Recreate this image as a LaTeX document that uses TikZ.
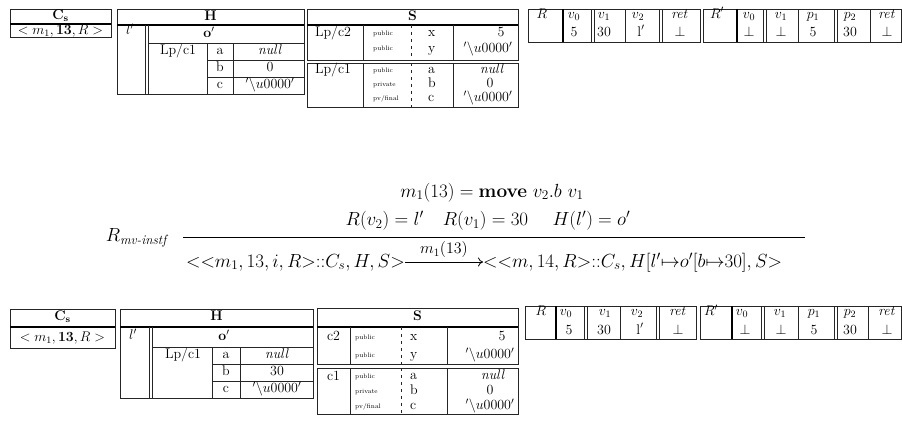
\RequirePackage{fix-cm}
\documentclass[tikz,border=0pt]{standalone}
\usepackage{amsmath,amssymb}
\usetikzlibrary{arrows.meta}
\newcommand\dblv[3]{\draw[dl] (#1-1.5,#2) -- (#1-1.5,#3) (#1+1.5,#2) -- (#1+1.5,#3);}
\begin{document}
\begin{tikzpicture}[x=1pt,y=-1pt,
  ln/.style={line width=0.8pt,draw=black!85},
  hv/.style={line width=2.6pt,draw=black},
  vt/.style={line width=1.8pt,draw=black},
  dl/.style={line width=0.7pt,draw=black!85},
  ds/.style={line width=0.8pt,draw=black!85,dash pattern=on 3pt off 4pt},
  tt/.style={font=\fontsize{14}{16}\selectfont,inner sep=0pt,text height=9.5pt,text depth=3pt},
  tb/.style={font=\fontsize{14}{16}\selectfont,inner sep=0pt,anchor=base},
  sm/.style={font=\fontsize{6.5}{7}\selectfont,inner sep=0pt,anchor=west,text height=4.6pt,text depth=1.5pt},
  bg/.style={font=\fontsize{19}{22}\selectfont,inner sep=0pt,anchor=base},
]
\useasboundingbox (0,0) rectangle (902,423);

% ================= TOP =================
% Cs
\draw[ln] (10,9) rectangle (111,37);
\draw[hv] (10,24) -- (111,24);
\node[tt] (aCs) at (60.5,16) {$\mathbf{C}_{\mathbf{s}}$};
\node[tb] (aCsv) at (60.5,34) {$< m_1, \mathbf{13}, R >$};
% H
\draw[ln] (117,9) rectangle (304,94);
\draw[hv] (117,25) -- (304,25);
\dblv{146.5}{25}{94}
\draw[ln] (148,43) -- (304,43) (207,60) -- (304,60) (207,77) -- (304,77)
          (207,43) -- (207,94) (233,43) -- (233,94);
\node[tt] (aH) at (210.5,17) {\textbf{H}};
\node[tt] (al) at (130,31) {$l'$};
\node[tt] (ao) at (209,34) {$\mathbf{o'}$};
\node[tt] (alp) at (178,51) {Lp/c1};
\node[tt] (aa) at (220,51) {a};
\node[tt] (aav) at (270,51) {\textit{null}};
\node[tt] (ab) at (220,68) {b};
\node[tt] (abv) at (270,68) {0};
\node[tt] (ac) at (220,85) {c};
\node[tt] (acv) at (270,85) {$'\backslash u0000'$};
% S
\draw[ln] (307,9) rectangle (518,25);
\draw[ln] (307,25) rectangle (518,60);
\draw[ln] (307,63) rectangle (518,107);
\draw[hv] (307,25) -- (518,25);
\draw[ln] (363,25) -- (363,60) (453,25) -- (453,60) (363,63) -- (363,107) (453,63) -- (453,107);
\draw[ds] (411,25) -- (411,60) (411,63) -- (411,107);
\node[tt] (aS) at (412.5,17) {\textbf{S}};
\node[tt] (alp2) at (333,33) {Lp/c2};
\node[sm] (apx) at (373,34) {public};
\node[sm] (apy) at (373,49) {public};
\node[tt,anchor=west] (ax) at (428,33) {x};
\node[tt,anchor=west] (ay) at (428,49) {y};
\node[tt] (axv) at (501,33) {5};
\node[tt] (ayv) at (488,49) {$'\backslash u0000'$};
\node[tt] (alp1) at (333,70) {Lp/c1};
\node[sm] (apa) at (373,71) {public};
\node[sm] (apb) at (373,85) {private};
\node[sm] (apc) at (373,99) {pv/final};
\node[tt,anchor=west] (asa) at (428,70) {a};
\node[tt,anchor=west] (asb) at (428,84) {b};
\node[tt,anchor=west] (asc) at (428,98) {c};
\node[tt] (asav) at (492,70) {\textit{null}};
\node[tt] (asbv) at (490,84) {0};
\node[tt] (ascv) at (488,98) {$'\backslash u0000'$};
% R and R'
\draw[ln] (528,9) rectangle (700,42);
\draw[ln] (703,9) rectangle (901,42);
\draw[vt] (563,9) -- (563,42) (737,9) -- (737,42);
\dblv{593}{9}{42} \dblv{661}{9}{42} \dblv{765}{9}{42} \dblv{836}{9}{42}
\draw[ln] (625,9) -- (625,42) (798,9) -- (798,42) (870,9) -- (870,42);
\foreach \x/\t/\n in {542/$R$/aR, 574/$v_0$/arv0, 604/$v_1$/arv1, 638/$v_2$/arv2, 680/$\mathit{ret}$/arret,
   717/$R'$/aRp, 749/$v_0$/aqv0, 781/$v_1$/aqv1, 813/$p_1$/aqp1, 850/$p_2$/aqp2, 887/$\mathit{ret}$/aqret}
  {\node[tb] (\n) at (\x,18) {\t};}
\foreach \x/\t/\n in {574/5/arv0v, 604/30/arv1v, 641/$\mathrm{l}'$/arv2v, 680/$\bot$/arretv,
   749/$\bot$/aqv0v, 781/$\bot$/aqv1v, 813/5/aqp1v, 850/30/aqp2v, 887/$\bot$/aqretv}
  {\node[tb] (\n) at (\x,36) {\t};}

% ================= RULE =================
\node[bg] (pr1) at (492,197) {$m_1(13) = \mathbf{move}\ v_2.b\ v_1$};
\node[bg] (pr2) at (488,225.5) {$R(v_2) = l'\quad R(v_1) = 30\quad\; H(l') = o'$};
\draw[line width=0.8pt] (183,237) -- (805,237);
\node[bg,anchor=east] (rlab) at (167,238) {$R_{\textit{mv-instf}}$};
\node[bg,anchor=base east] (cl) at (405,267) {${<}{<}m_1,13,i,R{>}{:}{:}C_s,H,S{>}$};
\node[bg,anchor=base west] (cr) at (483,267) {${<}{<}m,14,R{>}{:}{:}C_s,H[l'{\mapsto}o'[b{\mapsto}30],S{>}$};
\draw[line width=0.8pt,-{Computer Modern Rightarrow[length=5pt,width=9pt]}]
  ([yshift=5pt]cl.base east) -- ([yshift=5pt]cr.base west)
  node[midway,above=4pt,inner sep=0pt,font=\fontsize{16}{18}\selectfont] (arl) {$m_1(13)$};

% ================= BOTTOM =================
% Cs
\draw[ln] (10,309) rectangle (115,348);
\draw[hv] (10,327) -- (115,327);
\node[tt] (bCs) at (62.5,317) {$\mathbf{C}_{\mathbf{s}}$};
\node[tb] (bCsv) at (62.5,341) {$< m_1, \mathbf{13}, R >$};
% H
\draw[ln] (120,309) rectangle (313,398);
\draw[hv] (120,327) -- (313,327);
\dblv{151}{327}{398}
\draw[ln] (152.5,347) -- (313,347) (212,364) -- (313,364) (212,381) -- (313,381)
          (212,347) -- (212,398) (240,347) -- (240,398);
\node[tt] (bH) at (216.5,317) {\textbf{H}};
\node[tt] (bl) at (133,336) {$l'$};
\node[tt] (bo) at (224,337) {$\mathbf{o'}$};
\node[tt] (blp) at (183,355) {Lp/c1};
\node[tt] (ba) at (226,355) {a};
\node[tt] (bav) at (277,355) {\textit{null}};
\node[tt] (bb) at (226,372) {b};
\node[tt] (bbv) at (277,372) {30};
\node[tt] (bc) at (226,389) {c};
\node[tt] (bcv) at (277,389) {$'\backslash u0000'$};
% S
\draw[ln] (317,308) rectangle (518,327);
\draw[ln] (317,327) rectangle (518,364);
\draw[ln] (317,368) rectangle (518,414);
\draw[hv] (317,327) -- (518,327);
\draw[ln] (350,327) -- (350,364) (447,327) -- (447,364) (350,368) -- (350,414) (447,368) -- (447,414);
\draw[ds] (401,327) -- (401,364) (401,368) -- (401,414);
\node[tt] (bS) at (417.5,317) {\textbf{S}};
\node[tt] (bc2) at (333.5,337) {c2};
\node[sm] (bpx) at (355,338) {public};
\node[sm] (bpy) at (355,356) {public};
\node[tt,anchor=west] (bx) at (410,337) {x};
\node[tt,anchor=west] (by) at (410,355) {y};
\node[tt] (bxv) at (502,337) {5};
\node[tt] (byv) at (490,355) {$'\backslash u0000'$};
\node[tt] (bc1) at (333.5,377) {c1};
\node[sm] (bpa) at (355,377) {public};
\node[sm] (bpb) at (355,392) {private};
\node[sm] (bpc) at (355,407) {pv/final};
\node[tt,anchor=west] (bsa) at (410,376) {a};
\node[tt,anchor=west] (bsb) at (410,391) {b};
\node[tt,anchor=west] (bsc) at (410,406) {c};
\node[tt] (bsav) at (493,376) {\textit{null}};
\node[tt] (bsbv) at (490,391) {0};
\node[tt] (bscv) at (490,406) {$'\backslash u0000'$};
% R and R'
\draw[ln] (525,306) rectangle (696,339);
\draw[ln] (700,306) rectangle (901,339);
\draw[vt] (556,306) -- (556,339) (732,306) -- (732,339);
\dblv{586}{306}{339} \dblv{658}{306}{339} \dblv{763}{306}{339} \dblv{836}{306}{339}
\draw[ln] (620,306) -- (620,339) (798,306) -- (798,339) (868,306) -- (868,339);
\foreach \x/\t/\n in {541/$R$/bR, 566/$v_0$/brv0, 605/$v_1$/brv1, 637/$v_2$/brv2, 678/$\mathit{ret}$/brret,
   711/$R'$/bRp, 742/$v_0$/bqv0, 780/$v_1$/bqv1, 814/$p_1$/bqp1, 850/$p_2$/bqp2, 887/$\mathit{ret}$/bqret}
  {\node[tb] (\n) at (\x,315.5) {\t};}
\foreach \x/\t/\n in {569/5/brv0v, 604/30/brv1v, 640/$\mathrm{l}'$/brv2v, 678/$\bot$/brretv,
   745/$\bot$/bqv0v, 781/$\bot$/bqv1v, 814/5/bqp1v, 850/30/bqp2v, 887/$\bot$/bqretv}
  {\node[tb] (\n) at (\x,334) {\t};}
\end{tikzpicture}
\end{document}
